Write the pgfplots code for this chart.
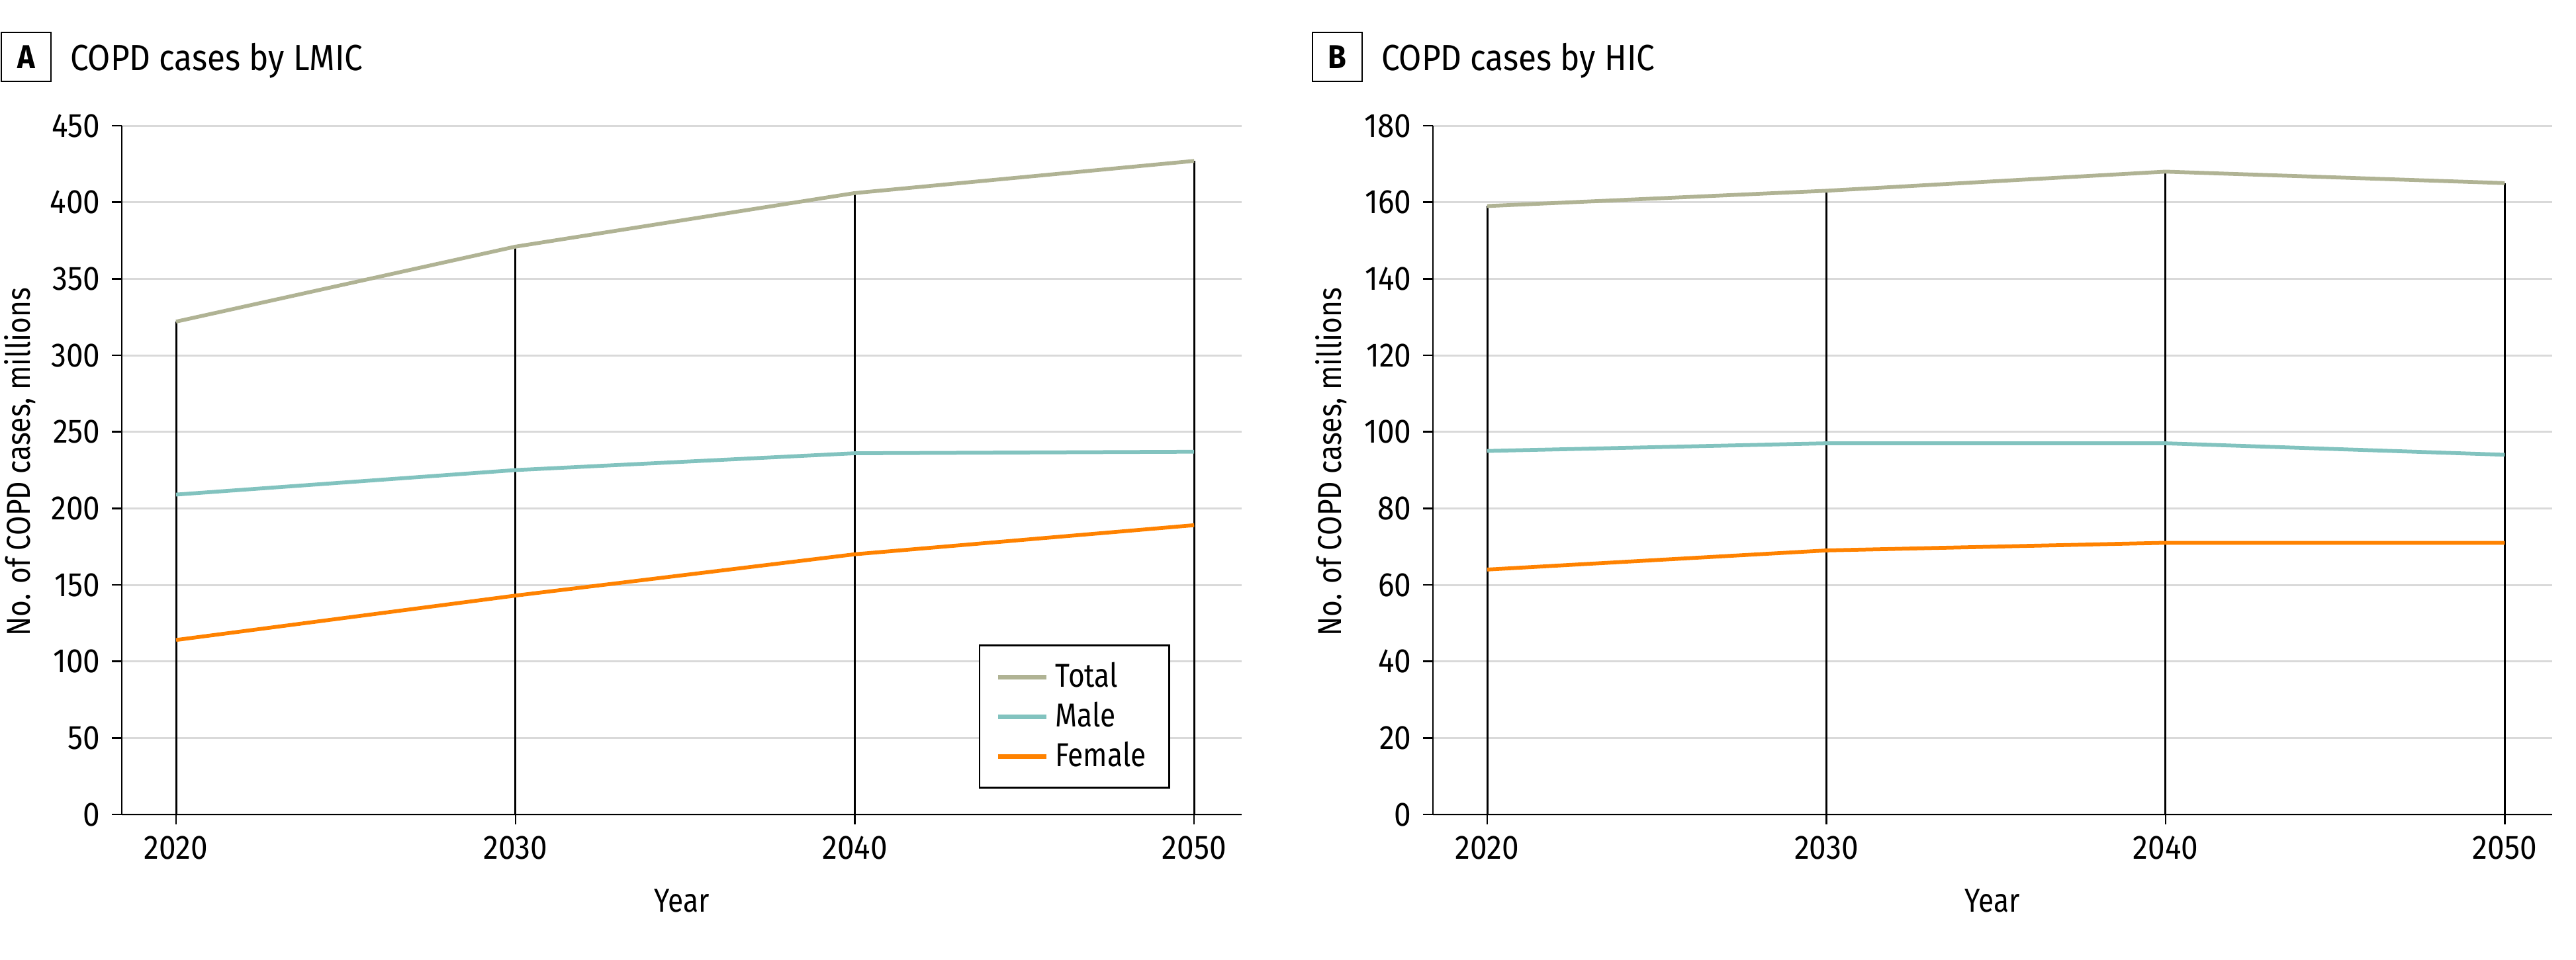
\documentclass[border=0pt]{standalone}
\usepackage{fontspec}
\setmainfont[FakeStretch=0.85]{Fira Sans}
\newfontfamily\titlefont[FakeStretch=0.9]{Fira Sans}
\newfontfamily\ylabfont[FakeStretch=0.78]{Fira Sans}
\newfontfamily\tickfont[FakeStretch=0.9]{Fira Sans}
\usepackage{pgfplots}
\pgfplotsset{compat=1.18}
\definecolor{cTotal}{RGB}{176,179,148}
\definecolor{cMale}{RGB}{130,195,191}
\definecolor{cFemale}{RGB}{255,130,0}
\definecolor{cGrid}{RGB}{217,217,217}

\pgfplotsset{
 copd/.style={
  scale only axis, width=338.4pt, height=208.2pt,
  anchor=south west,
  axis x line=bottom, axis y line=left,
  axis line style={-, line width=0.5pt},
  xmin=2018.4, xmax=2051.4, ymin=0,
  xtick={2020,2030,2040,2050},
  tick align=outside, major tick length=3pt,
  tick style={black, line width=0.5pt},
  ymajorgrids, major grid style={cGrid, line width=0.6pt},
  /pgf/number format/assume math mode=true,
  x tick label style={/pgf/number format/1000 sep={}},
  tick label style={font=\tickfont\fontsize{10.2}{12}\selectfont},
  xlabel={Year}, ylabel={No. of COPD cases, millions},
  x label style={font=\fontsize{10.7}{13}\selectfont},
  y label style={font=\ylabfont\fontsize{10.9}{13}\selectfont},
  every axis x label/.style={at={(axis description cs:0.5,-0.125)}, anchor=center},
  every axis y label/.style={at={(axis description cs:-0.091,0.512)}, anchor=center, rotate=90},
  clip=false,
 },
 lineplot/.style={line width=1.15pt, no markers},
}

\begin{document}
\begin{tikzpicture}
\useasboundingbox (0,0) rectangle (778.4pt,290pt);

\node[draw, line width=0.5pt, minimum width=15pt, minimum height=14.8pt, inner sep=0pt, font=\titlefont\bfseries\fontsize{10}{12}\selectfont] at (7.9pt,272.8pt) {A};
\node[anchor=base west, inner sep=0pt, font=\titlefont\fontsize{11}{13}\selectfont] at (21pt,268.8pt) {COPD cases by LMIC};
\node[draw, line width=0.5pt, minimum width=15pt, minimum height=14.8pt, inner sep=0pt, font=\titlefont\bfseries\fontsize{10}{12}\selectfont] at (404.05pt,272.8pt) {B};
\node[anchor=base west, inner sep=0pt, font=\titlefont\fontsize{11}{13}\selectfont] at (417.2pt,268.8pt) {COPD cases by HIC};

\begin{axis}[copd, at={(36.8pt,43.8pt)},
  ymax=450, ytick={0,50,...,450},
  legend style={at={(0.936,0.0375)}, anchor=south east, draw=black, line width=0.5pt,
    font=\fontsize{10}{12}\selectfont, inner xsep=5pt, inner ysep=3pt, row sep=-1pt},
  legend cell align=left,
  legend image code/.code={\draw[#1, line width=1.4pt] (0pt,0pt) -- (14.5pt,0pt);},
]
\addplot[ycomb, black, line width=0.6pt, no markers, forget plot] coordinates {(2020,322) (2030,371) (2040,406) (2050,427)};
\addplot[lineplot, cTotal] coordinates {(2020,322) (2030,371) (2040,406) (2050,427)};
\addplot[lineplot, cMale] coordinates {(2020,209) (2030,225) (2040,236) (2050,237)};
\addplot[lineplot, cFemale] coordinates {(2020,114) (2030,143) (2040,170) (2050,189)};
\legend{Total, Male, Female}
\end{axis}

\begin{axis}[copd, at={(433pt,43.8pt)}, width=338.2pt,
  ymax=180, ytick={0,20,...,180},
]
\addplot[ycomb, black, line width=0.6pt, no markers, forget plot] coordinates {(2020,159) (2030,163) (2040,168) (2050,165)};
\addplot[lineplot, cTotal] coordinates {(2020,159) (2030,163) (2040,168) (2050,165)};
\addplot[lineplot, cMale] coordinates {(2020,95) (2030,97) (2040,97) (2050,94)};
\addplot[lineplot, cFemale] coordinates {(2020,64) (2030,69) (2040,71) (2050,71)};
\end{axis}
\end{tikzpicture}
\end{document}
